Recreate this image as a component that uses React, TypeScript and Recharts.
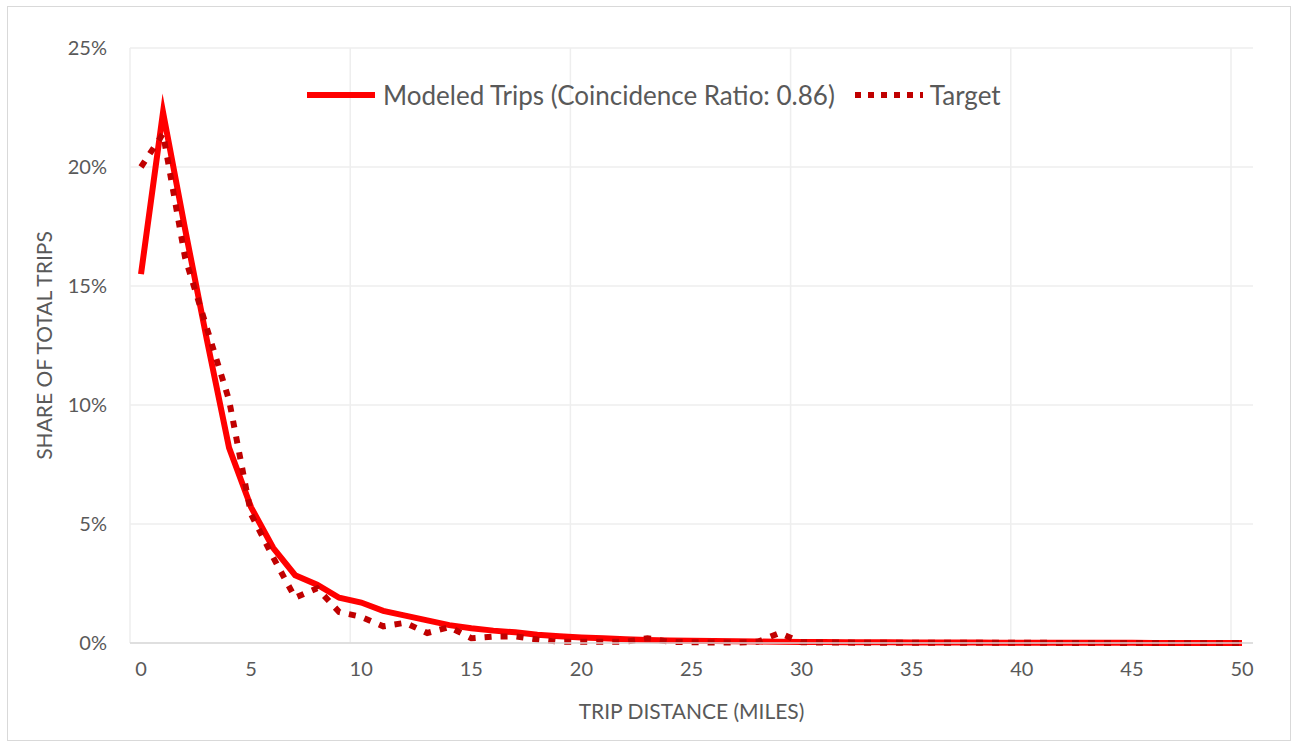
import { CartesianGrid, Legend, Line, LineChart, ReferenceLine, XAxis, YAxis } from "recharts";

// Trip distance bins (miles) and shares of total trips (%).
const distance = [
  0, 1, 2, 3, 4, 5, 6, 7, 8, 9, 10, 11, 12, 13, 14, 15, 16, 17, 18, 19, 20, 21, 22, 23, 24, 25,
  26, 27, 28, 29, 30, 31, 32, 33, 34, 35, 36, 37, 38, 39, 40, 41, 42, 43, 44, 45, 46, 47, 48, 49, 50,
];

const modeled = [
  15.5, 22.3, 17.4, 12.7, 8.2, 5.7, 4.0, 2.85, 2.45, 1.9, 1.7, 1.35, 1.15, 0.95, 0.75, 0.62, 0.52,
  0.45, 0.35, 0.28, 0.23, 0.2, 0.16, 0.13, 0.11, 0.09, 0.08, 0.07, 0.06, 0.05, 0.04, 0.04, 0.03,
  0.03, 0.03, 0.02, 0.02, 0.02, 0.02, 0.01, 0.01, 0.01, 0.01, 0.01, 0.01, 0.01, 0, 0, 0, 0, 0,
];

const target = [
  20.0, 21.4, 16.2, 13.2, 10.2, 5.4, 3.6, 1.9, 2.3, 1.3, 1.1, 0.7, 0.85, 0.42, 0.67, 0.2, 0.27,
  0.28, 0.15, 0.05, 0.05, 0.05, 0.05, 0.2, 0.05, 0.03, 0.02, 0.02, 0.05, 0.42, 0.03, 0.02, 0.02,
  0.01, 0.01, 0.01, 0.01, 0.01, 0.01, 0.01, 0.01, 0.01, 0, 0, 0, 0, 0, 0, 0, 0, 0,
];

const xTicks = [0, 5, 10, 15, 20, 25, 30, 35, 40, 45, 50];
const yTicks = [0, 5, 10, 15, 20, 25];
// Excel-style category gridlines sit between bins, every 10 bins.
const xGridLines = [-0.5, 9.5, 19.5, 29.5, 39.5, 49.5];

const data = distance.map((d, i) => ({ d, modeled: modeled[i], target: target[i] }));

const FONT = "Lato, 'Open Sans', sans-serif";
const GREY = "#595959";
const RED = "#FF0000";
const DARK_RED = "#C00000";

function LegendBox() {
  return (
    <div
      style={{
        display: "flex",
        alignItems: "center",
        height: 34,
        fontFamily: FONT,
        fontSize: 26,
        color: GREY,
        whiteSpace: "nowrap",
      }}
    >
      <svg width={68} height={10}>
        <line x1={0} x2={68} y1={5} y2={5} stroke={RED} strokeWidth={6} />
      </svg>
      <span style={{ marginLeft: 8 }}>Modeled Trips (Coincidence Ratio: 0.86)</span>
      <svg width={68} height={10} style={{ marginLeft: 20 }}>
        <line x1={0} x2={68} y1={5} y2={5} stroke={DARK_RED} strokeWidth={6} strokeDasharray="6 7" />
      </svg>
      <span style={{ marginLeft: 7 }}>Target</span>
    </div>
  );
}

export default function App() {
  return (
    <div style={{ position: "absolute", left: 0, top: 0, width: 1296, height: 747, background: "#fff" }}>
      <div
        style={{
          position: "absolute",
          left: 7,
          top: 6,
          width: 1282,
          height: 733,
          border: "1px solid #d9d9d9",
        }}
      />
      <LineChart
        width={1296}
        height={747}
        data={data}
        margin={{ top: 48, right: 43, left: 30, bottom: 24 }}
        style={{ position: "absolute", left: 0, top: 0 }}
      >
        <CartesianGrid vertical={false} stroke="#eeeeee" strokeWidth={1.5} />
        {xGridLines.map((x) => (
          <ReferenceLine key={x} x={x} stroke="#eeeeee" strokeWidth={1.5} />
        ))}
        <XAxis
          dataKey="d"
          type="number"
          domain={[-0.5, 50.5]}
          ticks={xTicks}
          interval={0}
          height={80}
          tickLine={false}
          tickSize={0}
          tickMargin={19}
          axisLine={{ stroke: "#d9d9d9", strokeWidth: 1.5 }}
          tick={{ fontFamily: FONT, fontSize: 20, fill: GREY }}
          label={{
            value: "TRIP DISTANCE (MILES)",
            position: "insideBottom",
            offset: 4,
            style: { fontFamily: FONT, fontSize: 21, fill: GREY },
          }}
        />
        <YAxis
          type="number"
          domain={[0, 25]}
          ticks={yTicks}
          width={100}
          tickLine={false}
          axisLine={false}
          tickSize={0}
          tickMargin={23}
          tickFormatter={(v: number) => `${v}%`}
          tick={{ fontFamily: FONT, fontSize: 20, fill: GREY }}
          label={{
            value: "SHARE OF TOTAL TRIPS",
            angle: -90,
            position: "insideLeft",
            offset: 15,
            style: { fontFamily: FONT, fontSize: 21, fill: GREY, textAnchor: "middle" },
          }}
        />
        <Legend
          layout="vertical"
          align="center"
          verticalAlign="middle"
          wrapperStyle={{ top: 78, left: 307, width: "auto" }}
          content={() => <LegendBox />}
        />
        <Line
          dataKey="modeled"
          stroke={RED}
          strokeWidth={6}
          strokeLinejoin="miter"
          strokeMiterlimit={10}
          dot={false}
          activeDot={false}
          isAnimationActive={false}
        />
        <Line
          dataKey="target"
          stroke={DARK_RED}
          strokeWidth={6}
          strokeDasharray="7 9"
          dot={false}
          activeDot={false}
          isAnimationActive={false}
        />
      </LineChart>
    </div>
  );
}
